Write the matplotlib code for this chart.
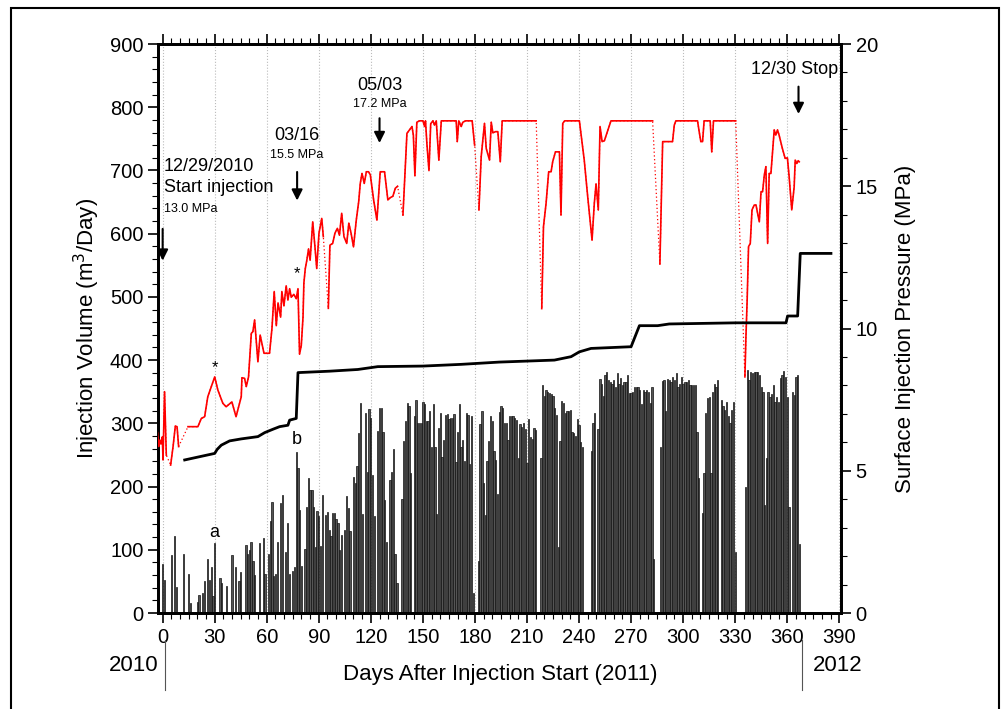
import numpy as np
import matplotlib
matplotlib.use("Agg")
import matplotlib.pyplot as plt
from matplotlib.patches import Rectangle
from matplotlib.ticker import MultipleLocator

plt.rcParams['font.family'] = ['Liberation Sans', 'DejaVu Sans']

# daily injection volume (m3/day), days after 12/29/2010
bar_days = [0, 1, 5, 7, 8, 12, 15, 16, 20, 21, 23, 24, 26, 27, 28, 29, 30, 33, 34, 37,
            40, 42, 44, 45, 48, 49, 50, 51, 52, 53, 56, 58, 59, 61, 62, 63, 64, 65, 66, 68,
            69, 71, 72, 73, 75, 76, 77, 78, 79, 80, 82, 83, 84, 85, 86, 87, 88, 89, 90, 91,
            92, 94, 95, 96, 97, 98, 99, 100, 101, 102, 103, 105, 106, 107, 108, 110, 111, 112, 113, 114,
            115, 117, 118, 119, 120, 121, 122, 124, 125, 126, 127, 128, 129, 131, 132, 133, 134, 135, 138, 139,
            140, 141, 142, 143, 145, 146, 147, 148, 149, 150, 151, 152, 153, 154, 155, 156, 157, 158, 159, 160,
            161, 162, 163, 164, 165, 166, 167, 168, 169, 170, 171, 172, 173, 174, 175, 176, 177, 178, 179, 182,
            183, 184, 185, 186, 187, 188, 189, 190, 191, 192, 193, 194, 195, 196, 197, 198, 199, 200, 201, 202,
            203, 204, 205, 206, 207, 208, 209, 210, 211, 212, 213, 214, 215, 218, 219, 220, 221, 222, 223, 224,
            225, 226, 227, 228, 229, 230, 231, 232, 233, 234, 235, 236, 237, 238, 239, 240, 241, 242, 247, 248,
            249, 251, 252, 253, 254, 255, 256, 257, 258, 259, 260, 261, 262, 263, 264, 265, 266, 267, 268, 269,
            270, 271, 272, 273, 274, 275, 276, 277, 278, 279, 280, 281, 282, 283, 287, 288, 289, 290, 291, 292,
            293, 294, 295, 296, 297, 298, 299, 300, 301, 302, 303, 304, 305, 306, 307, 308, 309, 311, 312, 313,
            314, 315, 316, 317, 318, 319, 320, 322, 323, 324, 325, 326, 327, 328, 329, 330, 336, 337, 338, 339,
            340, 341, 342, 343, 344, 345, 346, 347, 348, 349, 350, 351, 352, 353, 354, 355, 356, 357, 358, 359,
            360, 361, 363, 364, 365, 366, 367]
bar_vol = [77, 52, 92, 122, 41, 94, 61, 16, 17, 28, 32, 51, 85, 52, 72, 27, 110, 56, 47, 43,
           91, 72, 51, 65, 108, 93, 100, 113, 82, 60, 110, 118, 62, 94, 146, 176, 58, 62, 113, 174,
           187, 96, 142, 62, 67, 72, 254, 229, 163, 74, 101, 167, 213, 195, 195, 168, 105, 161, 153, 106,
           187, 155, 160, 131, 122, 158, 158, 149, 143, 99, 124, 132, 185, 166, 130, 215, 206, 233, 284, 332,
           157, 316, 223, 323, 309, 218, 154, 288, 325, 325, 286, 179, 113, 211, 223, 259, 94, 47, 181, 272,
           303, 332, 327, 221, 312, 337, 300, 300, 300, 334, 330, 303, 303, 319, 263, 330, 262, 156, 292, 316,
           247, 274, 313, 315, 307, 308, 308, 314, 239, 287, 331, 262, 274, 241, 316, 313, 235, 311, 32, 82,
           299, 319, 205, 155, 240, 272, 311, 303, 256, 242, 189, 318, 328, 324, 300, 301, 274, 311, 311, 311,
           309, 306, 245, 299, 295, 301, 291, 238, 307, 279, 276, 293, 290, 245, 360, 344, 353, 350, 348, 347,
           343, 324, 313, 105, 272, 336, 332, 316, 319, 319, 321, 286, 284, 280, 307, 297, 270, 263, 257, 301,
           316, 291, 370, 363, 343, 377, 382, 369, 366, 363, 369, 358, 379, 363, 371, 361, 366, 366, 377, 348,
           348, 350, 357, 358, 358, 353, 330, 352, 350, 352, 349, 332, 357, 85, 263, 367, 369, 319, 370, 369,
           366, 374, 369, 379, 358, 363, 374, 363, 366, 366, 369, 360, 361, 360, 361, 286, 213, 158, 221, 316,
           340, 341, 221, 350, 363, 358, 369, 337, 328, 321, 333, 311, 300, 321, 334, 97, 200, 384, 369, 381,
           379, 382, 381, 381, 377, 358, 349, 171, 245, 349, 342, 347, 360, 333, 342, 333, 371, 377, 383, 374,
           342, 168, 350, 345, 374, 377, 109]

# surface injection pressure (MPa); NaN marks a data gap (bridged by dotted line)
nan = np.nan
red_days = [-3, -2.2, -1.6, -1, -0.2, 0.2, 1.1, 2.1, nan,
            4.6, 6, 7.3, 8.3, 9.2, nan,
            14.6, 20.3, 22.3, 24.2, 26, 30, 31.8, 34.7, 36.6, 39.9, 42.3, 45.3, 45.7, 47.2, 48.2, 49.5,
            51.1, 52, 53, 53.6, 54.9, 56.2, 57.2, 58.4, 61.6, 63, 64.3, 65.5, 66.5, 68, 68.7, 69.9, 71.2,
            72.2, 73.2, 74.1, 75.6, 77, 78, 78.9, 79.9, 80.9, 81.4, 82.2, 83.1, 84.1, 85, 86.5, 87.8, 88.8,
            90.1, 91.7, 92.6, nan,
            95.5, 96.4, 98, 99.3, 100.7, 101.9, 103.2, 104.5, 106.1, 107.3, 108.6, 110, 111.6, 113, 113.9,
            114.9, 116.2, 117.4, 118.7, 119.7, 121.6, 123.5, 125.4, 127.9, 128.9, 129.8, 131.2, 132.7,
            134.1, 135.4, nan,
            138.5, 140.8, 142.5, 143.7, 144.5, 145.4, 146.5, 148, 150, 151, 151.5, 152.3, 153.5, 154.5,
            155.8, 156.7, 157.7, 159.2, 160.6, 169.2, 169.8, 170.7, 172.1, 173, 174.6, 178.4, 179.8, nan,
            182.3, 183.6, 185.5, 186.5, 188.4, 189.4, 190.3, 191.9, 193.2, 194.6, 195.7, 215.3, nan,
            218.5, 219.5, 221, 222.5, 223.9, 224.8, 226.4, 228.7, 229.6, 230.6, 231.7, 240.2, 243, 245,
            247.5, 248.8, 249.8, 251.1, 252.1, 253.3, 254.6, 258.4, 282.4, nan,
            286.6, 288.2, 293.9, 294.9, 295.8, 308.3, 309.3, 310.2, 311.2, 312.1, 315.6, 316.5, 317.5,
            330.3, nan,
            335.6, 336.2, 336.9, 337.7, 338.7, 339.7, 341, 342, 343.9, 344.9, 345.8, 346.8, 347.7, 348.7,
            349.6, 350.6, 351.5, 352.5, 353.4, 354.4, 355.3, 357.2, 358.8, 360.1, 361.1, 362.6, 364,
            364.6, 365.5, 366.3, 366.9]
red_mpa = [6.34, 5.85, 6.08, 5.94, 6.19, 5.38, 7.78, 5.55, nan,
           5.2, 5.85, 6.57, 6.55, 5.85, nan,
           6.55, 6.55, 6.84, 6.9, 7.6, 8.3, 7.84, 7.37, 7.25, 7.42, 6.9, 7.6, 8.27, 8.25, 7.96, 8.3,
           9.83, 9.89, 10.3, 9.83, 8.83, 9.77, 9.48, 9.13, 9.13, 10.0, 11.3, 10.1, 10.9, 10.4, 11.3, 10.8, 11.5,
           11.0, 11.4, 11.1, 11.2, 11.05, 11.4, 9.1, 9.4, 10.4, 11.6, 12.1, 12.4, 12.8, 12.4, 13.75, 12.86, 12.11,
           13.35, 13.87, 13.23, nan,
           10.71, 12.93, 12.99, 13.35, 13.52, 13.28, 14.05, 13.23, 12.99, 13.7, 13.35, 12.87, 13.81, 14.46, 15.1,
           15.45, 15.1, 15.51, 15.51, 15.4, 14.52, 13.81, 15.51, 15.51, 15.0, 14.52, 14.6, 14.65,
           14.93, 15.0, nan,
           13.99, 16.86, 17.0, 17.1, 16.8, 15.37, 17.25, 17.3, 17.3, 17.1, 17.3, 16.5, 15.55, 17.2,
           17.3, 17.15, 17.3, 15.92, 17.3, 17.3, 16.57, 17.3, 17.1, 17.25, 17.3, 17.3, 16.45, nan,
           14.17, 16.04, 17.21, 16.33, 15.92, 17.25, 16.88, 16.92, 16.92, 15.86, 17.3, 17.3, nan,
           10.7, 13.58, 14.4, 15.51, 15.51, 15.86, 16.21, 16.21, 13.99, 17.21, 17.3, 17.3, 15.92, 14.63,
           13.11, 14.4, 15.08, 14.17, 17.1, 16.57, 16.6, 17.3, 17.3, nan,
           12.27, 16.57, 16.57, 17.15, 17.3, 17.3, 16.9, 16.57, 16.57, 17.3, 17.3, 16.21, 17.3,
           17.3, nan,
           8.3, 9.71, 11.0, 12.88, 12.99, 14.17, 14.34, 14.34, 13.75, 14.81, 14.81, 15.4, 15.69, 12.99,
           15.45, 15.45, 16.16, 16.98, 16.8, 16.98, 16.8, 16.33, 15.98, 16.0, 15.34, 14.17, 14.98,
           15.92, 15.8, 15.9, 15.86]

# black line (MPa)
blk_days = [12.7, 30, 31.4, 33.8, 38.6, 45.3, 54.9, 58.8, 63.6, 67.4, 72.2, 73.2, 77, 78, 96.2, 112.5,
            124, 150, 172, 194, 225.8, 235.4, 240.2, 246.9, 270, 274.8, 285.3, 292, 330.5, 359.3, 360.2,
            366, 367.5, 385.2]
blk_mpa = [5.38, 5.61, 5.75, 5.9, 6.05, 6.12, 6.2, 6.34, 6.46, 6.55, 6.6, 6.78, 6.84, 8.45, 8.5, 8.56,
           8.66, 8.68, 8.74, 8.82, 8.89, 9.01, 9.18, 9.3, 9.36, 10.1, 10.1, 10.16, 10.2, 10.2, 10.44,
           10.44, 12.64, 12.64]

fig = plt.figure(figsize=(10.03, 7.09), dpi=100)
ax = fig.add_axes([0.1575, 0.1354, 0.681, 0.8025])
ax2 = ax.twinx()

ax.bar(bar_days, bar_vol, width=0.75, color='#555555', edgecolor='#111111', linewidth=0.5, zorder=2)

rd = np.array(red_days)
rm = np.array(red_mpa)
ok = np.isfinite(rd)
ax2.plot(rd[ok], rm[ok], color='red', lw=0.9, ls=(0, (1, 2)), zorder=3)
ax2.plot(rd, rm, color='red', lw=1.2, zorder=4)
ax2.plot(blk_days, blk_mpa, color='black', lw=2, zorder=5)

ax.set_xlim(-2.7, 391)
ax.set_ylim(0, 900)
ax2.set_ylim(0, 20)

ax.xaxis.set_major_locator(MultipleLocator(30))
ax.xaxis.set_minor_locator(MultipleLocator(5))
ax.yaxis.set_major_locator(MultipleLocator(100))
ax.yaxis.set_minor_locator(MultipleLocator(20))
ax2.yaxis.set_major_locator(MultipleLocator(5))
ax2.yaxis.set_minor_locator(MultipleLocator(1))

ax.tick_params(axis='x', which='both', direction='out', top=True, labelsize=14.5)
ax.tick_params(axis='y', which='both', direction='out', right=False, labelsize=14.5)
ax.tick_params(which='major', length=7, width=1.2)
ax.tick_params(which='minor', length=4, width=0.8)
ax2.tick_params(which='major', direction='out', length=7, width=1.2, labelsize=14.5)
ax2.tick_params(which='minor', direction='out', length=4, width=0.8)
for a in (ax, ax2):
    for s in a.spines.values():
        s.set_linewidth(2)

ax.xaxis.grid(True, which='major', linestyle=':', color='#bbbbbb', lw=0.8, zorder=0)
ax.set_axisbelow(True)

ax.set_ylabel('Injection Volume (m$^3$/Day)', fontsize=16, labelpad=6)
ax2.set_ylabel('Surface Injection Pressure (MPa)', fontsize=16, labelpad=12)

# annotations (left-axis coordinates)
arrow = dict(arrowstyle='-|>', color='black', lw=1.5, mutation_scale=16)
ax.text(0.5, 707, '12/29/2010', fontsize=13, ha='left', va='center')
ax.text(0.5, 673, 'Start injection', fontsize=13, ha='left', va='center')
ax.text(0.5, 639, '13.0 MPa', fontsize=9, ha='left', va='center')
ax.annotate('', xy=(0, 553), xytext=(0, 612), arrowprops=arrow)

ax.text(77.5, 756, '03/16', fontsize=13, ha='center', va='center')
ax.text(77.5, 725, '15.5 MPa', fontsize=9, ha='center', va='center')
ax.annotate('', xy=(77.5, 648), xytext=(77.5, 702), arrowprops=arrow)

ax.text(125, 834, '05/03', fontsize=13, ha='center', va='center')
ax.text(125, 805, '17.2 MPa', fontsize=9, ha='center', va='center')
ax.annotate('', xy=(125, 739), xytext=(125, 787), arrowprops=arrow)

ax.text(364, 859, '12/30 Stop', fontsize=13, ha='center', va='center')
ax.annotate('', xy=(366.5, 785), xytext=(366.5, 837), arrowprops=arrow)

ax.text(30, 388, '*', fontsize=12, ha='center', va='center')
ax.text(77.5, 537, '*', fontsize=12, ha='center', va='center')
ax.text(30, 128, 'a', fontsize=13, ha='center', va='center')
ax.text(77.5, 275, 'b', fontsize=13, ha='center', va='center')

# bottom labels
fig.text(0.4985, 0.049, 'Days After Injection Start (2011)', fontsize=16, ha='center', va='center')
fig.text(0.133, 0.062, '2010', fontsize=16, ha='center', va='center')
fig.text(0.835, 0.062, '2012', fontsize=16, ha='center', va='center')
fig.add_artist(plt.Line2D([165 / 1003, 165 / 1003], [1 - 690 / 709, 1 - 640 / 709],
                          transform=fig.transFigure, color='#555555', lw=0.8))
fig.add_artist(plt.Line2D([802 / 1003, 802 / 1003], [1 - 690 / 709, 1 - 640 / 709],
                          transform=fig.transFigure, color='#555555', lw=0.8))

fig.patches.append(Rectangle((0.0105, -0.05), 0.986, 1.039, transform=fig.transFigure,
                             fill=False, lw=1.5, edgecolor='black'))

fig.savefig('out.png', dpi=100)
